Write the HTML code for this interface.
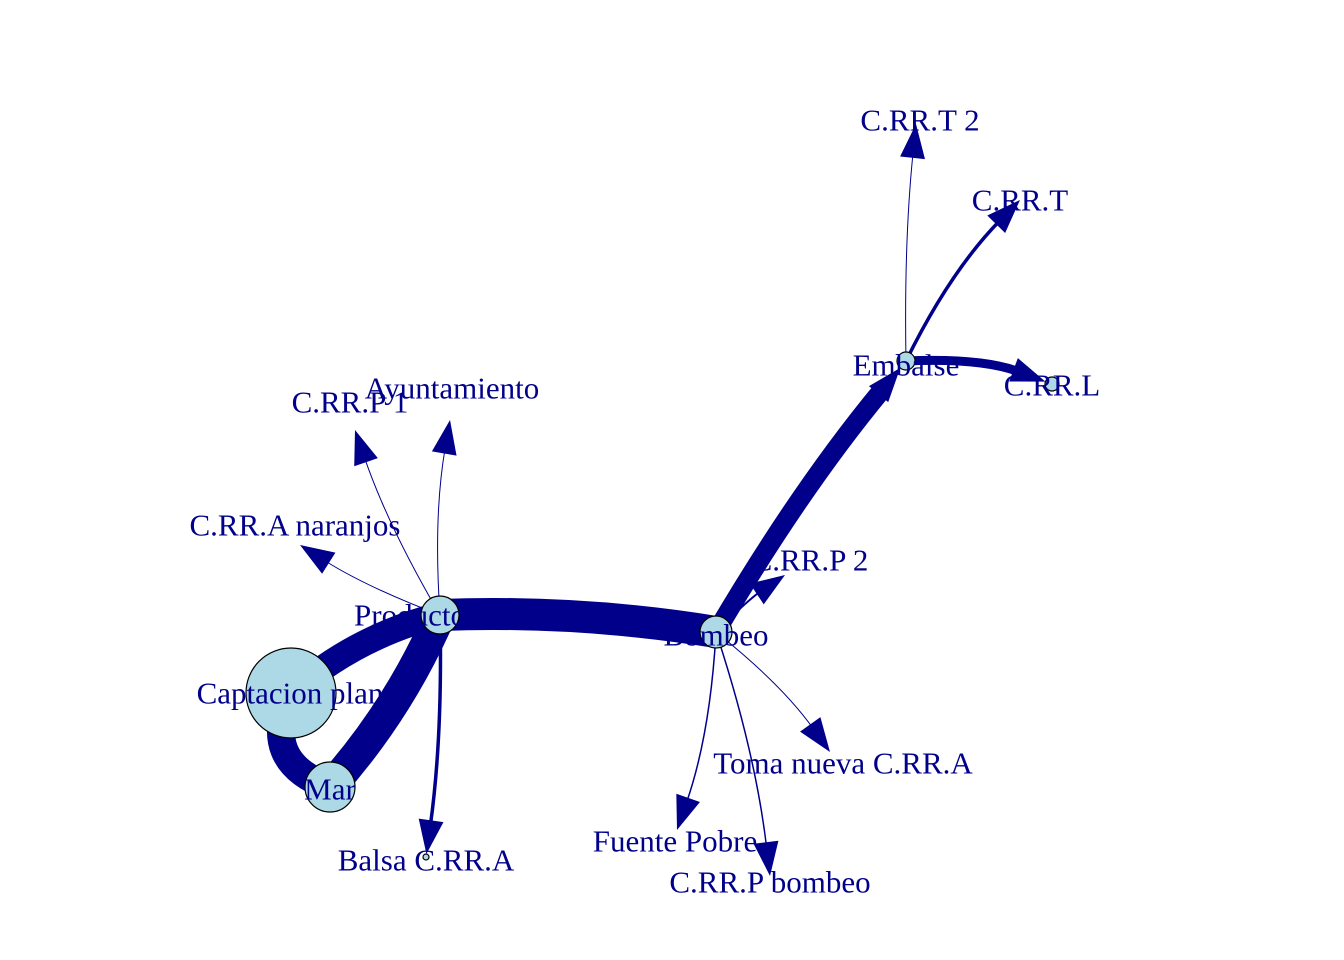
<!DOCTYPE html>
<html><head><meta charset="utf-8"><style>
html,body{margin:0;padding:0;background:#fff;}
svg{display:block;}
text{font-family:"Liberation Serif",serif;font-size:31px;fill:#00008B;}
</style></head><body>
<svg id="chart" width="1344" height="960" viewBox="0 0 1344 960">
<g id="edges"></g>
<g id="nodes"></g>
<g id="labels"></g>
</svg>
<script>
const nodeNames = ["Producto","Captacion plan","Mar","Bombeo","Embalse","C.RR.T 2","C.RR.T","C.RR.L","C.RR.P 2","Toma nueva C.RR.A","Fuente Pobre","C.RR.P bombeo","Balsa C.RR.A","C.RR.A naranjos","C.RR.P 1","Ayuntamiento"];
const nodeX = [440,291,330,716,906,916,1020,1052,785,830,677,770,426,300,355,450];
const nodeY = [615,693,787,632,361,124,200,384,575,752,830,876,857,545,430,420];
const nodeR = [19,45,25,16,9,0,0,7,0,0,0,0,3,0,0,0];
const labelX = [410,290,330,716,906,920,1020,1052,810,843,675,770,426,295,350,452];
const labelY = [615,693,789,635,365,120,200,385,560,763,841,882,860,525,402,388];
const edgeFrom = [1,0,2,0,3,4,4,4,0,0,0,0,3,3,3,3];
const edgeTo   = [0,2,1,3,4,7,6,5,12,13,14,15,8,9,10,11];
const edgeWidth= [26,32,28,32,19,9,3.5,1,3.5,1,1,1,2,1,1.5,1.5];
const edgeCurve= [-0.12,-0.08,-0.55,-0.05,-0.04,-0.1,-0.08,-0.03,-0.04,-0.05,-0.05,-0.06,-0.05,-0.07,-0.07,-0.05];
const edgeArrow= [0,0,0,0,1,1,1,1,1,1,1,1,1,1,1,1];

const NS="http://www.w3.org/2000/svg";
const gE=document.getElementById('edges'),gN=document.getElementById('nodes'),gL=document.getElementById('labels');
const COL="#00008B";
function slug(s){return s.toLowerCase().replace(/[^a-z0-9]+/g,'-');}
for(let i=0;i<edgeFrom.length;i++){
  const a=edgeFrom[i],b=edgeTo[i];
  const x1=nodeX[a],y1=nodeY[a],x2=nodeX[b],y2=nodeY[b];
  const dx=x2-x1,dy=y2-y1;
  const cx=(x1+x2)/2+edgeCurve[i]*(-dy),cy=(y1+y2)/2+edgeCurve[i]*dx;
  let tx=x2-cx,ty=y2-cy;const tl=Math.hypot(tx,ty);tx/=tl;ty/=tl;
  const tipX=x2-tx*nodeR[b],tipY=y2-ty*nodeR[b];
  const L=34,W=12.5;
  const bx=tipX-tx*L,by=tipY-ty*L;
  const p=document.createElementNS(NS,'path');
  
  
  const ex=edgeArrow[i]?bx+tx*5:x2, ey=edgeArrow[i]?by+ty*5:y2;
  p.setAttribute('d',`M${x1},${y1} Q${cx},${cy} ${ex},${ey}`);
  p.setAttribute('fill','none');p.setAttribute('stroke',COL);p.setAttribute('stroke-width',edgeWidth[i]);
  gE.appendChild(p);
  if(edgeArrow[i]){
    const ah=document.createElementNS(NS,'polygon');
    
    
    ah.setAttribute('points',`${tipX},${tipY} ${bx-ty*W},${by+tx*W} ${bx+ty*W},${by-tx*W}`);
    ah.setAttribute('fill',COL);
    gE.appendChild(ah);
  }
}
for(let i=0;i<nodeNames.length;i++){
  if(nodeR[i]>0){
    const c=document.createElementNS(NS,'circle');
    
    
    c.setAttribute('cx',nodeX[i]);c.setAttribute('cy',nodeY[i]);c.setAttribute('r',nodeR[i]);
    c.setAttribute('fill','#ADD8E6');c.setAttribute('stroke','#000');c.setAttribute('stroke-width',1.2);
    gN.appendChild(c);
  }
  const t=document.createElementNS(NS,'text');
  
  
  t.setAttribute('x',labelX[i]);t.setAttribute('y',labelY[i]);
  t.setAttribute('text-anchor','middle');t.setAttribute('dominant-baseline','central');
  t.textContent=nodeNames[i];
  gL.appendChild(t);
}
</script>
</body></html>
